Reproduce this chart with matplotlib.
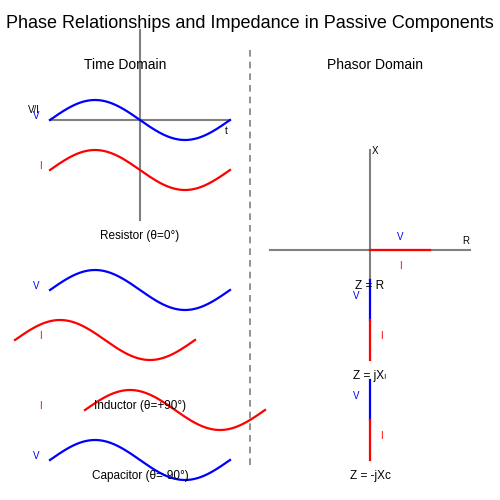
import numpy as np
import matplotlib.pyplot as plt

# wave traces: (x start, centre y, colour)
wave_x0 = [50, 50, 50, 15, 85, 50]
wave_yc = [120, 170, 290, 340, 410, 460]
wave_col = ['blue', 'red', 'blue', 'red', 'red', 'blue']
period = 180
amp = 20

# phasor segments: (x0, y0, x1, y1, colour)
phasors = [
    (370, 250, 430, 250, 'red'),
    (370, 280, 370, 320, 'blue'),
    (370, 320, 370, 360, 'red'),
    (370, 380, 370, 420, 'blue'),
    (370, 420, 370, 460, 'red'),
]

fig = plt.figure(figsize=(5, 5), dpi=100)
ax = fig.add_axes([0, 0, 1, 1])
ax.set_xlim(0, 500)
ax.set_ylim(500, 0)
ax.axis('off')

grey = '#808080'
# time domain axes
ax.plot([50, 230], [120, 120], color=grey, lw=1.5)
ax.plot([140, 140], [30, 220], color=grey, lw=1.5)
# divider
ax.plot([250, 250], [50, 465], color=grey, lw=1.2, ls=(0, (4, 3)))
# phasor axes
ax.plot([270, 470], [250, 250], color=grey, lw=1.5)
ax.plot([370, 370], [150, 280], color=grey, lw=1.5)

for x0, yc, c in zip(wave_x0, wave_yc, wave_col):
    x = np.linspace(x0, x0 + period, 200)
    ax.plot(x, yc - amp * np.sin(2 * np.pi * (x - x0) / period), color=c, lw=1.6)

for x0, y0, x1, y1, c in phasors:
    ax.plot([x0, x1], [y0, y1], color=c, lw=1.6)

def t(x, y, s, size=8, color='black'):
    ax.text(x, y, s, fontsize=size, color=color, ha='center', va='center',
            family=['Liberation Sans', 'DejaVu Sans'])

t(250, 24, 'Phase Relationships and Impedance in Passive Components', 13)
t(125, 65, 'Time Domain', 10)
t(375, 65, 'Phasor Domain', 10)

t(34, 110, 'V/I', 7)
t(36, 116, 'V', 7, 'blue')
t(226, 131, 't', 7)
t(40, 166, 'I', 7, 'red')
t(140, 236, 'Resistor (θ=0°)', 8.5)
t(36, 286, 'V', 7, 'blue')
t(40, 336, 'I', 7, 'red')
t(140, 406, 'Inductor (θ=+90°)', 8.5)
t(40, 406, 'I', 7, 'red')
t(36, 456, 'V', 7, 'blue')
t(140, 476, 'Capacitor (θ=-90°)', 8.5)

t(375, 151, 'X', 7)
t(466, 241, 'R', 7)
t(400, 237, 'V', 7, 'blue')
t(400, 266, 'I', 7, 'red')
t(370, 286, 'Z = R', 8.5)
t(356, 296, 'V', 7, 'blue')
t(381, 336, 'I', 7, 'red')
t(370, 376, 'Z = jXₗ', 8.5)
t(356, 396, 'V', 7, 'blue')
t(381, 436, 'I', 7, 'red')
t(370, 476, 'Z = -jXc', 8.5)

fig.savefig('out.png', dpi=100)
